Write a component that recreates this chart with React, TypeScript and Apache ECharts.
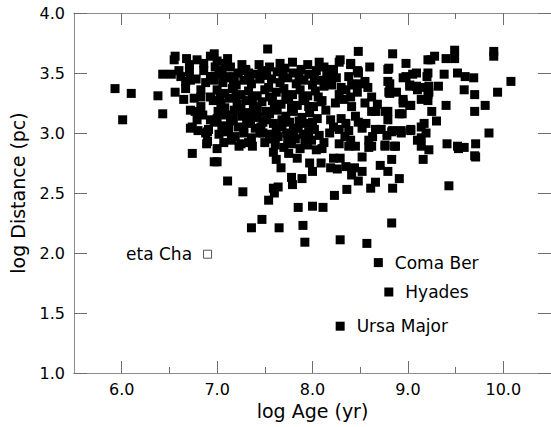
import { useEffect, useRef } from "react";
import * as echarts from "echarts";

// log Age (yr), log Distance (pc)
const youngGroup: [number, number][] = [
  [5.93, 3.37], [6.10, 3.33], [6.38, 3.31], [6.01, 3.11], [6.43, 3.16], [6.43, 3.49], [6.52, 3.49],
  [6.55, 3.61], [6.56, 3.64], [6.56, 3.34], [6.62, 3.47], [6.60, 3.52], [6.67, 3.43], [6.72, 3.44],
  [6.71, 3.57], [6.71, 3.51], [6.68, 3.62], [6.79, 3.61], [6.67, 3.37], [6.65, 3.28], [6.76, 3.29],
  [6.83, 3.36], [6.72, 3.19], [6.77, 3.18], [6.72, 3.04], [6.74, 3.05], [6.79, 3.11], [6.83, 3.22],
  [6.83, 3.30], [6.90, 2.93], [6.88, 3.00], [6.90, 3.01], [6.93, 3.64], [6.86, 3.58], [6.93, 3.47],
  [6.78, 3.45], [6.86, 3.52], [6.88, 3.42], [6.93, 3.30], [6.85, 3.15], [6.93, 3.11], [6.91, 3.03],
  [6.80, 3.02], [6.74, 2.83], [6.89, 2.91], [6.94, 3.47], [6.97, 3.66], [7.00, 3.60], [7.11, 3.62],
];

const midGroup: [number, number][] = [
  [6.98, 3.55], [7.05, 3.52], [7.14, 3.55], [7.22, 3.50], [7.30, 3.53], [7.40, 3.49], [7.47, 3.52],
  [6.97, 3.44], [7.06, 3.42], [7.12, 3.46], [7.20, 3.40], [7.28, 3.44], [7.36, 3.41], [7.45, 3.45],
  [7.00, 3.36], [7.08, 3.33], [7.16, 3.37], [7.25, 3.32], [7.33, 3.35], [7.42, 3.31], [7.50, 3.36],
  [6.96, 3.27], [7.04, 3.25], [7.13, 3.29], [7.21, 3.24], [7.30, 3.27], [7.38, 3.22], [7.47, 3.26],
  [7.01, 3.18], [7.09, 3.15], [7.18, 3.19], [7.26, 3.14], [7.34, 3.17], [7.43, 3.13], [7.51, 3.18],
  [6.97, 3.09], [7.05, 3.06], [7.14, 3.10], [7.22, 3.05], [7.31, 3.08], [7.40, 3.04], [7.48, 3.09],
  [7.02, 2.99], [7.10, 3.01], [7.19, 2.97], [7.28, 3.00], [7.36, 2.96], [7.45, 3.00],
  [7.07, 2.92], [7.25, 2.91], [7.55, 2.95],
  [7.55, 3.55], [7.63, 3.51], [7.71, 3.54], [7.80, 3.50], [7.88, 3.53], [7.96, 3.49], [8.04, 3.52],
  [7.57, 3.45], [7.66, 3.42], [7.74, 3.46], [7.83, 3.41], [7.91, 3.44], [8.00, 3.40], [8.08, 3.44],
  [7.54, 3.38], [7.62, 3.34], [7.70, 3.37], [7.79, 3.32], [7.87, 3.36], [7.95, 3.31], [8.03, 3.35],
  [7.58, 3.27], [7.67, 3.24], [7.75, 3.28], [7.84, 3.23], [7.92, 3.27], [8.01, 3.22], [8.09, 3.26],
  [7.55, 3.16], [7.63, 3.19], [7.72, 3.14], [7.80, 3.18], [7.89, 3.13], [7.97, 3.17], [8.05, 3.12],
  [7.59, 3.08], [7.68, 3.05], [7.76, 3.09], [7.85, 3.04], [7.93, 3.08], [8.02, 3.03],
  [7.56, 2.99], [7.64, 2.97], [7.73, 3.00], [7.82, 2.95], [7.90, 2.99], [7.99, 2.94], [8.07, 2.98],
  [7.61, 2.90], [7.70, 2.88], [7.78, 2.91], [7.87, 2.87], [7.95, 2.90], [8.04, 2.86],
  [7.00, 2.87], [7.23, 2.89], [7.37, 2.89], [7.00, 2.76], [7.11, 2.60], [7.27, 2.51], [7.48, 3.00],
  [7.59, 2.84], [7.62, 2.78], [7.75, 2.83], [7.67, 2.71], [7.78, 2.63], [7.79, 2.57], [7.89, 2.62],
  [7.59, 2.54], [7.64, 2.55], [7.60, 2.50], [7.54, 2.44], [7.47, 2.28], [7.36, 2.21], [7.65, 2.21],
  [7.85, 2.38], [7.90, 2.23], [7.92, 2.09], [8.00, 2.39], [8.11, 2.38], [8.00, 2.68], [7.53, 3.70],
  [7.10, 3.47], [7.17, 3.39], [7.33, 3.50], [7.79, 3.59], [8.07, 3.59], [7.30, 3.52], [6.97, 2.76],
  [7.84, 2.79], [7.97, 2.75],
];

const coreFill: [number, number][] = [
  [7.02, 3.49], [7.18, 3.47], [7.34, 3.46], [7.52, 3.48], [7.69, 3.48], [7.86, 3.47], [8.02, 3.46],
  [7.03, 3.30], [7.20, 3.31], [7.37, 3.28], [7.55, 3.30], [7.72, 3.31], [7.90, 3.30], [8.06, 3.30],
  [7.08, 3.21], [7.25, 3.20], [7.42, 3.20], [7.60, 3.22], [7.78, 3.21], [7.96, 3.22],
  [7.00, 3.12], [7.17, 3.12], [7.35, 3.11], [7.52, 3.11], [7.68, 3.11], [7.86, 3.10], [8.00, 3.09],
  [7.12, 3.03], [7.28, 3.04], [7.46, 3.05], [7.62, 3.03], [7.80, 3.02], [7.96, 3.01],
  [7.15, 2.94], [7.33, 2.92], [7.50, 2.92], [7.74, 2.94], [7.92, 2.93],
  [7.08, 3.58], [7.26, 3.57], [7.44, 3.57], [7.66, 3.58], [7.95, 3.57],
];

const oldGroup: [number, number][] = [
  [8.12, 3.55], [8.15, 3.48], [8.12, 3.39], [8.16, 3.45], [8.20, 3.40], [8.25, 3.46], [8.29, 3.61],
  [8.21, 3.53], [8.28, 3.59], [8.22, 3.52], [8.40, 3.57], [8.48, 3.51], [8.47, 3.52], [8.40, 3.58],
  [8.48, 3.68], [8.30, 3.38], [8.38, 3.47], [8.44, 3.40], [8.41, 3.41], [8.35, 3.36], [8.50, 3.41],
  [8.55, 3.43], [8.48, 3.50], [8.28, 3.32], [8.33, 3.28], [8.41, 3.22], [8.45, 3.14], [8.48, 3.09],
  [8.24, 3.25], [8.40, 3.30], [8.47, 3.34], [8.62, 3.30], [8.62, 3.18], [8.76, 3.18], [8.79, 3.11],
  [8.91, 3.16], [9.03, 3.23], [8.95, 3.25], [9.14, 3.28], [9.21, 3.32], [8.66, 3.03], [8.72, 3.03],
  [8.83, 3.01], [8.93, 3.00], [9.03, 3.03], [8.62, 2.89], [8.76, 2.90], [8.86, 2.89], [9.10, 2.94],
  [9.17, 3.08], [9.14, 2.89], [8.59, 2.94], [8.52, 3.04], [8.10, 3.27], [8.14, 3.19], [8.19, 3.11],
  [8.18, 3.00], [8.12, 2.92], [8.28, 3.03], [8.35, 3.08], [8.40, 2.94], [8.28, 2.91], [8.45, 2.89],
  [8.30, 3.12], [8.22, 3.05], [8.38, 3.02], [8.34, 2.97], [8.10, 2.87], [8.09, 2.75], [8.22, 2.79],
  [8.29, 2.79], [8.19, 2.71], [8.26, 2.70], [8.35, 2.72], [8.44, 2.71], [8.52, 2.68], [8.41, 2.65],
  [8.38, 2.89], [8.52, 2.80], [8.59, 2.88], [8.48, 2.60], [8.36, 2.53], [8.23, 2.48], [8.61, 2.54],
  [8.66, 2.59], [8.71, 2.73], [8.79, 2.68], [8.83, 2.78], [8.84, 2.54], [8.91, 2.62], [8.83, 2.25],
  [8.29, 2.11], [8.57, 2.08], [8.79, 3.53], [8.84, 3.66], [8.98, 3.58], [8.98, 3.47], [9.09, 3.50],
  [9.21, 3.50], [8.81, 3.41], [8.81, 3.33], [8.88, 3.34], [9.02, 3.39], [9.10, 3.36], [9.22, 3.39],
  [8.80, 3.54], [8.79, 3.43], [8.80, 3.34], [8.95, 3.46], [9.05, 3.49], [9.02, 3.40], [9.09, 3.39],
  [8.95, 3.28], [9.02, 3.23], [8.94, 3.16], [8.66, 3.18], [8.79, 3.18], [8.87, 2.89], [8.76, 2.89],
  [8.78, 2.98], [8.84, 3.02], [8.93, 3.02], [9.03, 3.02], [9.14, 3.05], [9.14, 2.96], [9.19, 3.00],
  [8.55, 3.25], [8.58, 3.38], [8.60, 3.55], [8.68, 3.24], [8.56, 3.08], [8.63, 2.97],
];

const oldestGroup: [number, number][] = [
  [9.24, 3.61], [9.28, 3.64], [9.40, 3.62], [9.49, 3.69], [9.49, 3.62], [9.90, 3.68], [9.90, 3.64],
  [10.08, 3.43], [9.94, 3.34], [9.81, 3.23], [9.85, 3.00], [9.70, 3.32], [9.70, 3.18], [9.59, 3.36],
  [9.52, 3.50], [9.60, 3.47], [9.69, 3.46], [9.38, 3.49], [9.32, 3.39], [9.40, 3.23], [9.30, 3.10],
  [9.25, 3.18], [9.21, 3.27], [9.22, 3.34], [9.20, 3.47], [9.17, 3.38], [9.41, 2.91], [9.52, 2.89],
  [9.59, 2.88], [9.71, 2.91], [9.70, 2.81], [9.43, 2.56], [9.22, 2.86], [9.16, 2.78], [9.53, 2.87],
  [9.71, 2.80], [9.21, 3.61],
];

const namedClusters = ["Coma Ber", "Hyades", "Ursa Major"];
const namedAges = [8.69, 8.80, 8.29];
const namedDists = [1.92, 1.675, 1.39];

const etaChaName = "eta Cha";
const etaChaPoint: [number, number] = [6.90, 1.99];

const xMajorTicks = [6, 7, 8, 9, 10];
const xMinorTicks = [6.5, 7.5, 8.5, 9.5];
const yTicks = [1.0, 1.5, 2.0, 2.5, 3.0, 3.5, 4.0];

const FONT = "'DejaVu Sans', Verdana, sans-serif";

export default function App() {
  const ref = useRef<HTMLDivElement>(null);
  useEffect(() => {
    const chart = echarts.init(ref.current!, null, { renderer: "svg" });
    const axisLine = { show: true, lineStyle: { color: "#8c8c8c", width: 1 } };
    const tickStyle = { color: "#6e6e6e", width: 1 };
    const xBase = { type: "value", min: 5.5, max: 10.5, axisLine, splitLine: { show: false } };
    const yBase = { type: "value", min: 1, max: 4, interval: 0.5, axisLine, splitLine: { show: false } };
    const markStyle = { color: "#000", opacity: 1 };
    chart.setOption({
      animation: false,
      backgroundColor: "#fff",
      grid: { left: 72, top: 13, width: 483, height: 360 },
      xAxis: [
        {
          ...xBase,
          position: "bottom",
          axisTick: { show: true, inside: true, length: 12, customValues: xMajorTicks, lineStyle: tickStyle },
          axisLabel: {
            customValues: xMajorTicks,
            formatter: (v: number) => v.toFixed(1),
            fontSize: 16,
            color: "#000",
            margin: 8,
            fontFamily: FONT,
          },
          name: "log Age (yr)",
          nameLocation: "middle",
          nameGap: 26,
          nameTextStyle: { fontSize: 19, color: "#000", fontFamily: FONT },
        },
        {
          ...xBase,
          position: "bottom",
          axisTick: { show: true, inside: true, length: 6, customValues: xMinorTicks, lineStyle: tickStyle },
          axisLabel: { show: false },
        },
        {
          ...xBase,
          position: "top",
          axisTick: { show: true, inside: true, length: 12, customValues: xMajorTicks, lineStyle: tickStyle },
          axisLabel: { show: false },
        },
        {
          ...xBase,
          position: "top",
          axisTick: { show: true, inside: true, length: 6, customValues: xMinorTicks, lineStyle: tickStyle },
          axisLabel: { show: false },
        },
      ],
      yAxis: [
        {
          ...yBase,
          position: "left",
          axisTick: { show: true, inside: true, length: 13, lineStyle: tickStyle },
          axisLabel: {
            formatter: (v: number) => (yTicks.includes(v) ? v.toFixed(1) : ""),
            fontSize: 16,
            color: "#000",
            margin: 9,
            fontFamily: FONT,
          },
          name: "log Distance (pc)",
          nameLocation: "middle",
          nameGap: 47,
          nameTextStyle: { fontSize: 19, color: "#000", fontFamily: FONT },
        },
        {
          ...yBase,
          position: "right",
          axisTick: { show: true, inside: true, length: 13, lineStyle: tickStyle },
          axisLabel: { show: false },
        },
      ],
      series: [
        ...[youngGroup, midGroup, coreFill, oldGroup, oldestGroup].map((g) => ({
          type: "scatter",
          symbol: "rect",
          symbolSize: 9,
          itemStyle: markStyle,
          data: g,
          silent: true,
        })),
        {
          type: "scatter",
          symbol: "rect",
          symbolSize: 9,
          itemStyle: markStyle,
          data: namedClusters.map((n, i) => ({ name: n, value: [namedAges[i], namedDists[i]] })),
          label: {
            show: true,
            position: "right",
            distance: 12,
            formatter: "{b}",
            fontSize: 17,
            color: "#000",
            fontFamily: FONT,
          },
        },
        {
          type: "scatter",
          symbol: "rect",
          symbolSize: 8,
          itemStyle: { color: "#fff", borderColor: "#555", borderWidth: 1, opacity: 1 },
          data: [{ name: etaChaName, value: etaChaPoint }],
          label: {
            show: true,
            position: "left",
            distance: 11,
            formatter: "{b}",
            fontSize: 17,
            color: "#000",
            fontFamily: FONT,
          },
        },
      ],
    });
    return () => chart.dispose();
  }, []);
  return (
    <div
      ref={ref}
      style={{ position: "absolute", left: 0, top: 0, width: 551, height: 427, background: "#fff" }}
    />
  );
}
